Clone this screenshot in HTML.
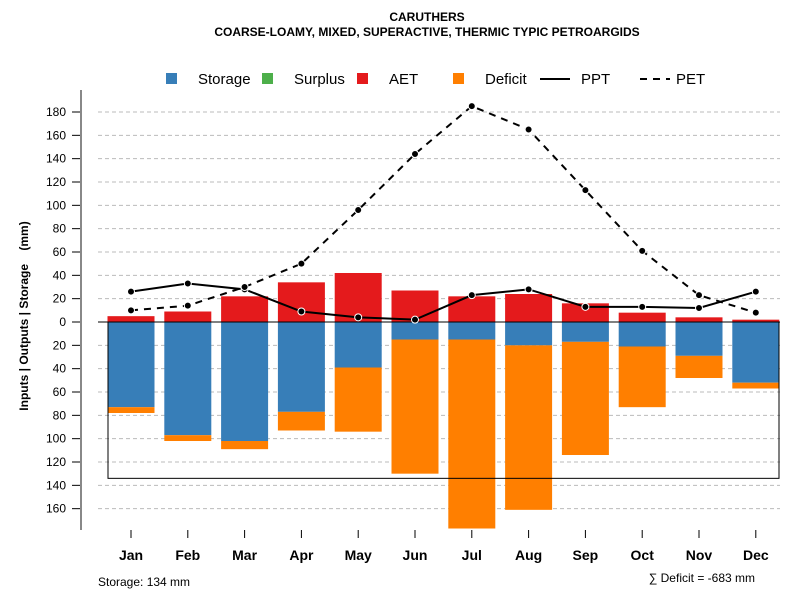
<!DOCTYPE html>
<html><head><meta charset="utf-8"><style>
body{margin:0;background:#fff;}
svg{display:block;font-family:"Liberation Sans",sans-serif;}
</style></head><body>
<svg id="chart" width="800" height="600">
<text x="427" y="21" text-anchor="middle" font-size="12" font-weight="bold">CARUTHERS</text>
<text x="427" y="36" text-anchor="middle" font-size="12" font-weight="bold">COARSE-LOAMY, MIXED, SUPERACTIVE, THERMIC TYPIC PETROARGIDS</text>
<g id="grid"></g>
<g id="bars"></g>
<g id="lines"></g>
<g id="axes"></g>
<g font-size="15">
<g><rect x="166" y="73" width="11" height="11" fill="#377eb8"/><text x="198" y="84">Storage</text></g>
<g><rect x="262" y="73" width="11" height="11" fill="#4daf4a"/><text x="294" y="84">Surplus</text></g>
<g><rect x="357" y="73" width="11" height="11" fill="#e41a1c"/><text x="389" y="84">AET</text></g>
<g><rect x="453" y="73" width="11" height="11" fill="#ff7f00"/><text x="485" y="84">Deficit</text></g>
<g><line x1="540" y1="79" x2="570" y2="79" stroke="#000" stroke-width="2"/><text x="581" y="84">PPT</text></g>
<g><line x1="640" y1="79" x2="670" y2="79" stroke="#000" stroke-width="2" stroke-dasharray="7,6"/><text x="676" y="84">PET</text></g>
</g>
<text transform="translate(28,316) rotate(-90)" text-anchor="middle" font-size="12" font-weight="bold" style="white-space:pre">Inputs | Outputs | Storage    (mm)</text>
<text x="98" y="586" font-size="12">Storage: 134 mm</text>
<text x="755" y="582" text-anchor="end" font-size="12">∑ Deficit = -683 mm</text>
</svg>
<script>
const months=["Jan","Feb","Mar","Apr","May","Jun","Jul","Aug","Sep","Oct","Nov","Dec"];
const aet=[5,9,22,34,42,27,22,24,16,8,4,2];
const storage=[73,97,102,77,39,15,15,20,17,21,29,52];
const deficit=[5,5,7,16,55,115,162,141,97,52,19,5];
const ppt=[26,33,28,9,4,2,23,28,13,13,12,26];
const pet=[10,14,30,50,96,144,185,165,113,61,23,8];
const yTicks=[180,160,140,120,100,80,60,40,20,0,-20,-40,-60,-80,-100,-120,-140,-160];
const storageCap=134;
const ns="http://www.w3.org/2000/svg";
const y=v=>322-v*1.1667;
const x=i=>131+i*56.8;
function mk(tag,attrs,parent){const e=document.createElementNS(ns,tag);for(const k in attrs)e.setAttribute(k,attrs[k]);document.getElementById(parent).appendChild(e);return e;}
yTicks.forEach(t=>{
 if(t!==0){const g=mk("line",{x1:98,x2:780,y1:y(t),y2:y(t),stroke:"#bbb","stroke-dasharray":"4,3"},"grid");
 
 }
 const tk=mk("line",{x1:72,x2:81,y1:y(t),y2:y(t),stroke:"#000"},"axes");
 
 
 const lb=mk("text",{x:66,y:y(t)+4,"text-anchor":"end","font-size":12},"axes");lb.textContent=Math.abs(t);
 
 
});
const ax=mk("line",{x1:81,x2:81,y1:90,y2:530,stroke:"#888","stroke-width":2},"axes");


months.forEach((m,i)=>{
 const bw=47,bx=x(i)-bw/2;
 const a=mk("rect",{x:bx,y:y(aet[i]),width:bw,height:y(0)-y(aet[i]),fill:"#e41a1c"},"bars");
 
 
 const s=mk("rect",{x:bx,y:y(0),width:bw,height:y(-storage[i])-y(0),fill:"#377eb8"},"bars");
 
 
 const d=mk("rect",{x:bx,y:y(-storage[i]),width:bw,height:y(-storage[i]-deficit[i])-y(-storage[i]),fill:"#ff7f00"},"bars");
 
 
 const tk=mk("line",{x1:x(i),x2:x(i),y1:530,y2:538,stroke:"#000"},"axes");
 
 
 const lb=mk("text",{x:x(i),y:560,"text-anchor":"middle","font-size":14,"font-weight":"bold"},"axes");lb.textContent=m;
 
 
});
const z=mk("line",{x1:98,x2:780,y1:y(0),y2:y(0),stroke:"#000"},"bars");


const cap=mk("rect",{x:108,y:y(0),width:671,height:y(-storageCap)-y(0),fill:"none",stroke:"#000"},"bars");


[[ppt,"ppt",null],[pet,"pet","7,6"]].forEach(([arr,nm,da])=>{
 const p=mk("polyline",{points:arr.map((v,i)=>x(i)+","+y(v)).join(" "),fill:"none",stroke:"#000","stroke-width":2},"lines");
 if(da)p.setAttribute("stroke-dasharray",da);
 
 
 arr.forEach((v,i)=>{const c=mk("circle",{cx:x(i),cy:y(v),r:3.5,fill:"#000",stroke:"#fff","stroke-width":1},"lines");
 
 });
});
</script>
</body></html>
